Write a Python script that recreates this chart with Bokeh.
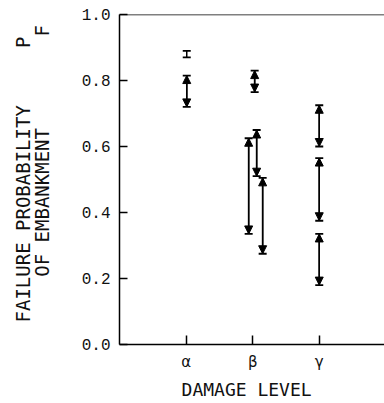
from bokeh.plotting import figure
from bokeh.models import (Whisker, Arrow, NormalHead, TeeHead, ColumnDataSource,
                          FixedTicker, Span, Range1d)
from bokeh.embed import file_html
from bokeh.resources import INLINE

# ---- data ----
levels = ["α", "β", "γ"]
level_pos = [1, 2, 3]
y_ticks = [0.0, 0.2, 0.4, 0.6, 0.8, 1.0]
interval_x = [1.01, 1.01, 2.03, 1.94, 2.06, 2.15, 3.0, 3.0, 3.0]
interval_lo = [0.87, 0.72, 0.765, 0.335, 0.51, 0.275, 0.60, 0.375, 0.18]
interval_hi = [0.89, 0.815, 0.83, 0.625, 0.65, 0.505, 0.725, 0.565, 0.335]
y_title = ["FAILURE PROBABILITY", "OF EMBANKMENT"]
x_title = "DAMAGE LEVEL"
pf_symbol = ("P", "F")

NB = "\u00a0"

p = figure(width=384, height=403, output_backend="svg", toolbar_location=None,
           x_range=Range1d(0, 3.98), y_range=Range1d(0, 1.0),
           min_border_left=119, min_border_right=0, min_border_top=14,
           min_border_bottom=59)
p.grid.visible = False
p.outline_line_color = None
p.background_fill_color = "white"
p.border_fill_color = "white"

lab_font = "DejaVu Sans Mono"

# y axis
ya = p.yaxis[0]
ya.ticker = FixedTicker(ticks=y_ticks)
ya.major_label_overrides = {t: f"{t:.1f}" for t in y_ticks}
ya.major_tick_in = 8
ya.major_tick_out = 0
ya.minor_tick_line_color = None
ya.axis_line_width = 1.5
ya.major_tick_line_width = 1.5
ya.major_label_text_font = "Liberation Mono"
ya.major_label_text_font_size = "16px"
ya.major_label_text_color = "#111111"
ya.major_label_standoff = 9
line1 = NB + y_title[0] + NB * 5 + pf_symbol[0] + NB
line2 = NB * 5 + y_title[1] + NB * 8 + pf_symbol[1]
ya.axis_label = line1 + "\n" + line2
ya.axis_label_text_font = lab_font
ya.axis_label_text_font_size = "19px"
ya.axis_label_text_font_style = "normal"
ya.axis_label_text_color = "#111111"
ya.axis_label_text_line_height = 0.85
ya.axis_label_standoff = 26

# x axis
xa = p.xaxis[0]
xa.ticker = FixedTicker(ticks=level_pos)
xa.major_label_overrides = {pos: lab for pos, lab in zip(level_pos, levels)}
xa.major_tick_in = 9
xa.major_tick_out = 0
xa.minor_tick_line_color = None
xa.axis_line_width = 1.5
xa.major_tick_line_width = 1.5
xa.major_label_text_font = "DejaVu Sans"
xa.major_label_text_font_size = "15px"
xa.major_label_text_color = "#111111"
xa.major_label_standoff = 8
xa.axis_label = x_title + NB
xa.axis_label_text_font = lab_font
xa.axis_label_text_font_size = "18px"
xa.axis_label_text_font_style = "normal"
xa.axis_label_text_color = "#111111"
xa.axis_label_standoff = 5

p.add_layout(Span(location=1.0, dimension="width", line_color="black", line_width=1.5))

# intervals
src = ColumnDataSource(dict(x=interval_x, lo=interval_lo, hi=interval_hi))
p.add_layout(Whisker(source=src, base="x", lower="lo", upper="hi", dimension="height",
                     line_color="black", line_width=1.5,
                     lower_head=TeeHead(size=8, line_width=1.8, line_color="black"),
                     upper_head=TeeHead(size=8, line_width=1.8, line_color="black")))

keep = [i for i in range(len(interval_x)) if interval_hi[i] - interval_lo[i] > 0.03]
asrc = ColumnDataSource(dict(x=[interval_x[i] for i in keep],
                             lo=[interval_lo[i] for i in keep],
                             hi=[interval_hi[i] for i in keep]))
p.add_layout(Arrow(source=asrc, x_start="x", y_start="lo", x_end="x", y_end="hi",
                   line_color="black", line_width=1.5,
                   start=NormalHead(size=8, fill_color="black", line_color="black"),
                   end=NormalHead(size=8, fill_color="black", line_color="black")))

open("out.html", "w").write(file_html(p, INLINE))
